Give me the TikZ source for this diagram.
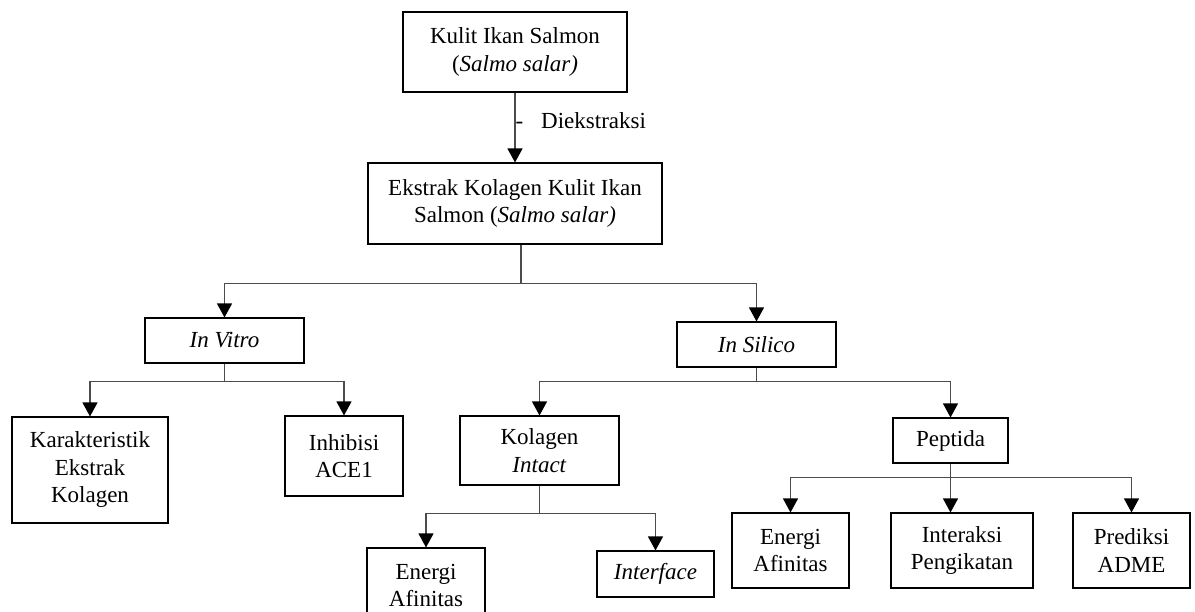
\documentclass[tikz,border=0pt]{standalone}
\usepackage{fontspec}
\setmainfont{Liberation Serif}
\usepackage{tikz}
\usetikzlibrary{calc,positioning,arrows.meta}

\begin{document}
\begin{tikzpicture}[x=1pt,y=-1pt,
	box/.style={draw,line width=1.1pt,rectangle,inner sep=0pt,align=center,font=\fontsize{23}{27.5}\selectfont},
	arr/.style={-{Triangle[width=15pt,length=14pt,black]},line width=1.2pt,draw=black!70}]
			\clip (0,0) rectangle (1195,612);

			\node[box,minimum width=224,minimum height=80] (kulit) at (515,52) {Kulit Ikan Salmon\\(\textit{Salmo salar)}};
			\node[box,minimum width=294,minimum height=81] (ekstrak) at (515,203.5) {Ekstrak Kolagen Kulit Ikan\\Salmon (\textit{Salmo salar)}};

			\node[box,minimum width=159,minimum height=45] (vitro) at (224.5,340.5) {\textit{In Vitro}};
			\node[box,minimum width=159,minimum height=45] (silico) at (756.5,344.5) {\textit{In Silico}};

			\node[box,minimum width=156,minimum height=106] (karak) at (90,470) {Karakteristik\\Ekstrak\\Kolagen};
			\node[box,minimum width=118,minimum height=80] (inhib) at (344,456) {Inhibisi\\ACE1};
			\node[box,minimum width=159,minimum height=69] (intact) at (539.5,450.5) {Kolagen\\\textit{Intact}};
			\node[box,minimum width=115,minimum height=45] (peptida) at (950.5,440.5) {Peptida};

			\node[box,minimum width=118,minimum height=75] (energiA) at (426,585.5) {Energi\\Afinitas};
			\node[box,minimum width=117,minimum height=46] (interface) at (655.5,574) {\textit{Interface}};
			\node[box,minimum width=117,minimum height=75] (energiB) at (790.5,550.5) {Energi\\Afinitas};
			\node[box,minimum width=142,minimum height=75] (interaksi) at (962,550.5) {Interaksi\\Pengikatan};
			\node[box,minimum width=117,minimum height=75] (prediksi) at (1131.5,550.5) {Prediksi\\ADME};

			\draw[arr] (kulit) -- (ekstrak) node[pos=0.4,anchor=west,inner sep=0pt,font=\fontsize{23}{27.5}\selectfont] {-\hspace{18pt}Diekstraksi};
			\draw[arr] ([xshift=6]ekstrak.south) -- ++(0,39) -| (vitro.north);
			\draw[arr] ([xshift=6]ekstrak.south) -- ++(0,39) -| (silico.north);
			\draw[arr] (vitro.south) -- ++(0,18) -| (karak.north);
			\draw[arr] (vitro.south) -- ++(0,18) -| (inhib.north);
			\draw[arr] (silico.south) -- ++(0,14) -| (intact.north);
			\draw[arr] (silico.south) -- ++(0,14) -| (peptida.north);
			\draw[arr] (intact.south) -- ++(0,28) -| (energiA.north);
			\draw[arr] (intact.south) -- ++(0,28) -| (interface.north);
			\draw[arr] (peptida.south) -- ++(0,14) -| (energiB.north);
			\draw[arr] (peptida.south) -- (peptida.south |- interaksi.north);
			\draw[arr] (peptida.south) -- ++(0,14) -| (prediksi.north);
		\end{tikzpicture}
\end{document}
